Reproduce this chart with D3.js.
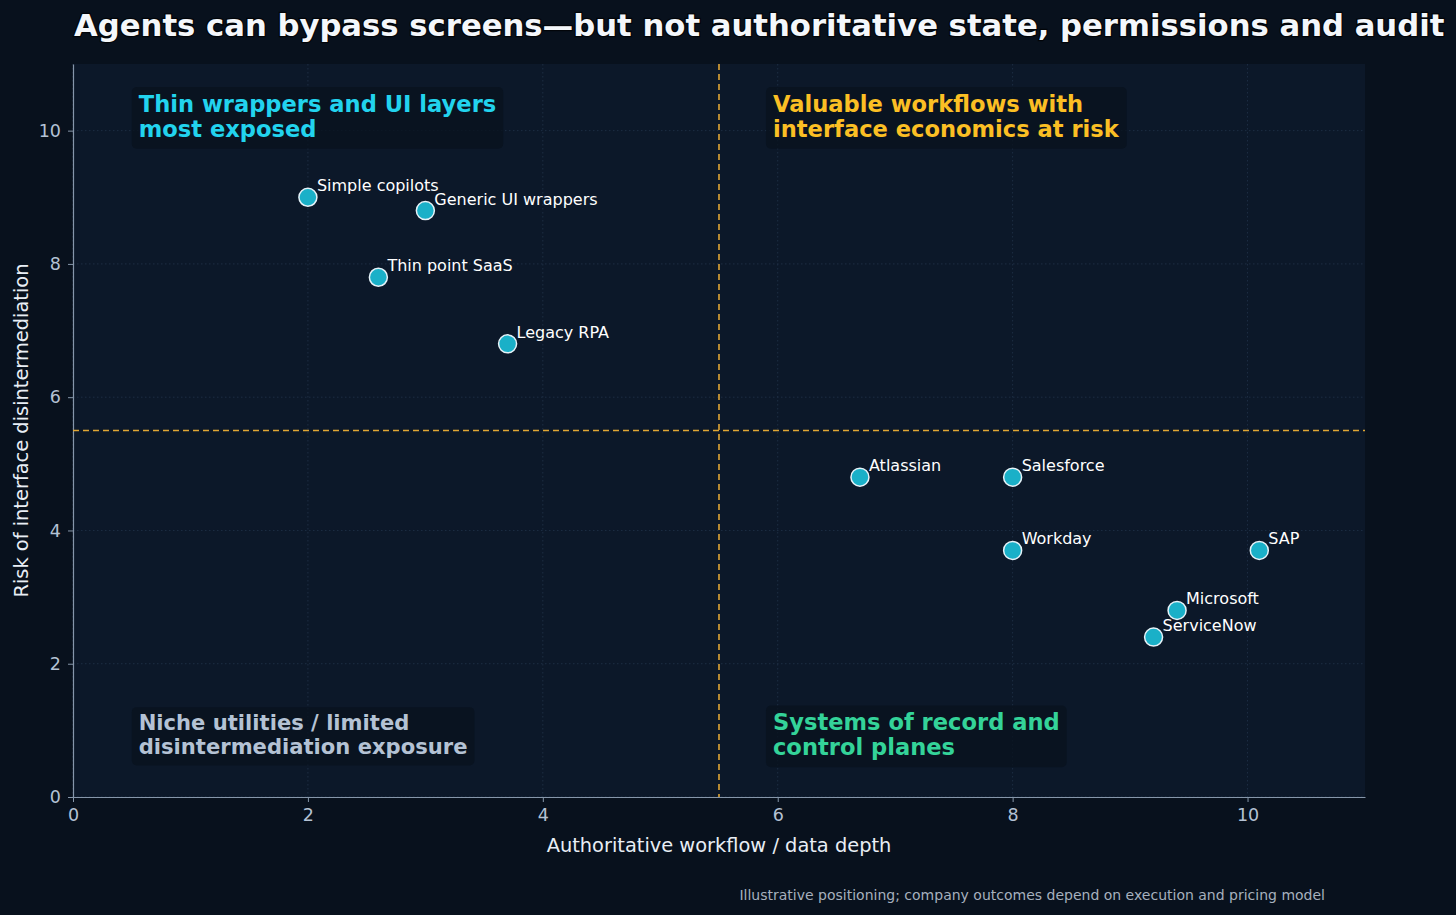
<!DOCTYPE html>
<html>
<head>
<meta charset="utf-8">
<script src="https://cdn.jsdelivr.net/npm/d3@7"></script>
<style>
  html, body { margin: 0; padding: 0; background: #08111d; }
  svg { display: block; font-family: "DejaVu Sans", sans-serif; }
</style>
</head>
<body>
<div id="chart"></div>
<script>
// data
const names = ["Simple copilots", "Generic UI wrappers", "Thin point SaaS", "Legacy RPA",
               "Atlassian", "Salesforce", "Workday", "SAP", "Microsoft", "ServiceNow"];
const depth = [2.0, 3.0, 2.6, 3.7, 6.7, 8.0, 8.0, 10.1, 9.4, 9.2];
const risk  = [9.0, 8.8, 7.8, 6.8, 4.8, 4.8, 3.7, 3.7, 2.8, 2.4];
const ticks = [0, 2, 4, 6, 8, 10];
const divider = 5.5;

const quadLabels = ["Thin wrappers and UI layers\nmost exposed",
                    "Valuable workflows with\ninterface economics at risk",
                    "Niche utilities / limited\ndisintermediation exposure",
                    "Systems of record and\ncontrol planes"];
const quadX = [0.5, 5.9, 0.5, 5.9];
const quadY = [10.28, 10.28, 1.0, 1.0];
const quadColor = ["#22d3ee", "#fbbf24", "#b4c2d4", "#34d399"];
const quadSize = [22.6, 22.6, 21.1, 22.6];

const W = 1456, H = 915;
const margin = {top: 64, right: 91, bottom: 118, left: 73};
const width = W - margin.left - margin.right;
const height = H - margin.top - margin.bottom;

const svg = d3.select("#chart").append("svg")
    .attr("width", W)
    .attr("height", H);

svg.append("rect").attr("width", W).attr("height", H).attr("fill", "#08111d");

const g = svg.append("g").attr("transform", `translate(${margin.left},${margin.top})`);

g.append("rect").attr("width", width).attr("height", height).attr("fill", "#0c1829");

const x = d3.scaleLinear().domain([0, 11]).range([0, width]);
const y = d3.scaleLinear().domain([0, 11]).range([height, 0]);

// grid
g.selectAll(".gx").data(ticks).enter().append("line")
    .attr("x1", d => x(d)).attr("x2", d => x(d))
    .attr("y1", 0).attr("y2", height)
    .attr("stroke", "#22344a").attr("stroke-width", 0.8).attr("stroke-dasharray", "1.5,2.5");
g.selectAll(".gy").data(ticks).enter().append("line")
    .attr("y1", d => y(d)).attr("y2", d => y(d))
    .attr("x1", 0).attr("x2", width)
    .attr("stroke", "#22344a").attr("stroke-width", 0.8).attr("stroke-dasharray", "1.5,2.5");

// axes
const xAxis = g.append("g").attr("transform", `translate(0,${height})`)
    .call(d3.axisBottom(x).tickValues(ticks).tickSize(5).tickPadding(7).tickSizeOuter(0));
const yAxis = g.append("g")
    .call(d3.axisLeft(y).tickValues(ticks).tickSize(5).tickPadding(7).tickSizeOuter(0));
[xAxis, yAxis].forEach(a => {
    a.select(".domain").attr("stroke", "#8696aa").attr("stroke-width", 1.2);
    a.selectAll(".tick line").attr("stroke", "#8696aa");
    a.selectAll(".tick text").attr("fill", "#b4c2d4").attr("font-size", 17.5)
        .attr("font-family", "DejaVu Sans");
});

// dividers
g.append("line").attr("x1", x(divider)).attr("x2", x(divider)).attr("y1", 0).attr("y2", height)
    .attr("stroke", "#e0a634").attr("stroke-width", 1.6).attr("stroke-dasharray", "6,4");
g.append("line").attr("y1", y(divider)).attr("y2", y(divider)).attr("x1", 0).attr("x2", width)
    .attr("stroke", "#e0a634").attr("stroke-width", 1.6).attr("stroke-dasharray", "6,4");

// quadrant labels
quadLabels.forEach((txt, i) => {
    const lab = g.append("g");
    const lines = txt.split("\n");
    const lh = quadSize[i] * 1.1;
    const tx = x(quadX[i]) + 7, ty = y(quadY[i]);
    const t = lab.append("text")
        .attr("x", tx).attr("y", ty)
        .attr("fill", quadColor[i])
        .attr("font-size", quadSize[i]).attr("font-weight", "bold");
    lines.forEach((line, j) => {
        t.append("tspan").attr("x", tx).attr("dy", j === 0 ? 0 : lh).text(line);
    });
    const bb = t.node().getBBox();
    lab.insert("rect", "text")
        .attr("x", tx - 7).attr("y", ty - lh)
        .attr("width", bb.width + 14).attr("height", lh * lines.length + 12)
        .attr("rx", 5)
        .attr("fill", "#08111d").attr("fill-opacity", 0.75);
});

// points
const pts = names.map((n, i) => ({name: n, x: depth[i], y: risk[i]}));
g.selectAll(".pt").data(pts).enter().append("circle")
    .attr("cx", d => x(d.x)).attr("cy", d => y(d.y)).attr("r", 9)
    .attr("fill", "#1ab0c8").attr("stroke", "#e6f2f8").attr("stroke-width", 1.5);
g.selectAll(".pl").data(pts).enter().append("text")
    .attr("x", d => x(d.x) + 9).attr("y", d => y(d.y) - 6)
    .attr("fill", "#ffffff").attr("font-size", 16)
    .text(d => d.name);

// axis titles
svg.append("text").attr("x", margin.left + width / 2).attr("y", 852)
    .attr("text-anchor", "middle").attr("fill", "#e8eef5").attr("font-size", 19.4)
    .text("Authoritative workflow / data depth");
svg.append("text").attr("transform", `translate(28,${margin.top + height / 2}) rotate(-90)`)
    .attr("text-anchor", "middle").attr("fill", "#e8eef5").attr("font-size", 19.4)
    .text("Risk of interface disintermediation");

// title
svg.append("text").attr("x", 74).attr("y", 36)
    .attr("fill", "#f4f7fb").attr("font-size", 30.7).attr("font-weight", "bold")
    .attr("stroke", "#020509").attr("stroke-width", 2.5).attr("paint-order", "stroke")
    .text("Agents can bypass screens\u2014but not authoritative state, permissions and audit");

// footnote
svg.append("text").attr("x", 1325).attr("y", 900)
    .attr("text-anchor", "end").attr("fill", "#a6b0bd").attr("font-size", 14)
    .text("Illustrative positioning; company outcomes depend on execution and pricing model");
</script>
</body>
</html>
